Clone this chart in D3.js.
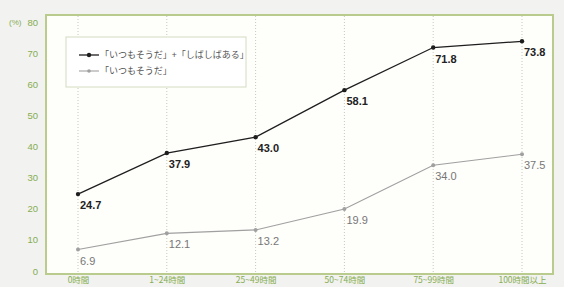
<!DOCTYPE html>
<html>
<head>
<meta charset="utf-8">
<script src="https://cdn.jsdelivr.net/npm/d3@7"></script>
<style>
  body { margin: 0; background: #f2f2f0; }
  svg { display: block; font-family: "Liberation Sans", Arial, sans-serif; }
  .jp { font-family: "Noto Sans CJK JP", sans-serif; }
</style>
</head>
<body>
<div id="chart"></div>
<script>
// data
var categories = ["0時間", "1~24時間", "25~49時間", "50~74時間", "75~99時間", "100時間以上"];
var seriesNames = ["「いつもそうだ」+「しばしばある」", "「いつもそうだ」"];
var alwaysOrOften = [24.7, 37.9, 43.0, 58.1, 71.8, 73.8];
var always = [6.9, 12.1, 13.2, 19.9, 34.0, 37.5];
var yTicks = [0, 10, 20, 30, 40, 50, 60, 70, 80];

var svgWidth = 564;
var svgHeight = 287;

var box = { left: 46, top: 15, right: 553, bottom: 274 };

var svg = d3.select("#chart")
    .append("svg")
    .attr("width", svgWidth)
    .attr("height", svgHeight);

// scales
var xScale = d3.scalePoint()
    .domain(categories)
    .range([78, 522]);

var yScale = d3.scaleLinear()
    .domain([0, 80])
    .range([271, 22]);

// plot box
svg.append("rect")
    .attr("x", box.left)
    .attr("y", box.top)
    .attr("width", box.right - box.left)
    .attr("height", box.bottom - box.top)
    .attr("fill", "#fefefb")
    .attr("stroke", "#b9cc8e")
    .attr("stroke-width", 2);

// vertical dotted grid lines
svg.selectAll(".vgrid")
    .data(categories)
    .enter()
    .append("line")
    .attr("class", "vgrid")
    .attr("x1", d => xScale(d))
    .attr("x2", d => xScale(d))
    .attr("y1", box.top + 1)
    .attr("y2", box.bottom - 1)
    .attr("stroke", "#c8c8c0")
    .attr("stroke-width", 1)
    .attr("stroke-dasharray", "1,2");

// y axis labels
var leftAxis = d3.axisLeft(yScale)
    .tickValues(yTicks)
    .tickSize(0)
    .tickPadding(0);

var yAxisG = svg.append("g")
    .attr("transform", "translate(38,0)")
    .call(leftAxis);
yAxisG.select(".domain").remove();
yAxisG.selectAll("text")
    .attr("fill", "#86ad52")
    .attr("font-size", 9.5)
    .attr("font-family", "Liberation Sans, Arial, sans-serif");

svg.append("text")
    .attr("x", 9)
    .attr("y", yScale(80))
    .attr("dy", "0.32em")
    .attr("fill", "#86ad52")
    .attr("font-size", 8)
    .text("(%)");

// x axis labels
var bottomAxis = d3.axisBottom(xScale)
    .tickSize(0)
    .tickPadding(0);

var xAxisG = svg.append("g")
    .attr("transform", "translate(0,277)")
    .call(bottomAxis);
xAxisG.select(".domain").remove();
xAxisG.selectAll("text")
    .attr("fill", "#86ad52")
    .attr("font-size", 8.5)
    .attr("font-family", "Noto Sans CJK JP, sans-serif");

// lines
var line = d3.line()
    .x((d, i) => xScale(categories[i]))
    .y(d => yScale(d));

function drawSeries(values, color, width, r, labelColor, bold) {
    svg.append("path")
        .datum(values)
        .attr("d", line)
        .attr("fill", "none")
        .attr("stroke", color)
        .attr("stroke-width", width);

    svg.selectAll(null)
        .data(values)
        .enter()
        .append("circle")
        .attr("cx", (d, i) => xScale(categories[i]))
        .attr("cy", d => yScale(d))
        .attr("r", r)
        .attr("fill", color);

    svg.selectAll(null)
        .data(values)
        .enter()
        .append("text")
        .attr("x", (d, i) => xScale(categories[i]) + 2)
        .attr("y", d => yScale(d) + 15)
        .attr("fill", labelColor)
        .attr("font-size", 11)
        .attr("font-weight", bold ? "bold" : "normal")
        .text(d => d.toFixed(1));
}

drawSeries(always, "#a0a0a0", 1.1, 2, "#777", false);
drawSeries(alwaysOrOften, "#1e1e1e", 1.3, 2.2, "#222", true);

// legend
var legend = svg.append("g");
legend.append("rect")
    .attr("x", 66)
    .attr("y", 37)
    .attr("width", 180)
    .attr("height", 50)
    .attr("fill", "#ffffff")
    .attr("stroke", "#d3dcc0")
    .attr("stroke-width", 1);

var legendItems = [
    { name: seriesNames[0], color: "#1e1e1e", width: 1.3, r: 2.2, y: 55 },
    { name: seriesNames[1], color: "#a0a0a0", width: 1.1, r: 1.8, y: 71 }
];

legendItems.forEach(function(item) {
    legend.append("line")
        .attr("x1", 79).attr("x2", 99)
        .attr("y1", item.y).attr("y2", item.y)
        .attr("stroke", item.color)
        .attr("stroke-width", item.width);
    legend.append("circle")
        .attr("cx", 89).attr("cy", item.y)
        .attr("r", item.r)
        .attr("fill", item.color);
    legend.append("text")
        .attr("class", "jp")
        .attr("x", 100)
        .attr("y", item.y)
        .attr("dy", "0.35em")
        .attr("fill", "#555")
        .attr("font-size", 9)
        .text(item.name);
});
</script>
</body>
</html>
